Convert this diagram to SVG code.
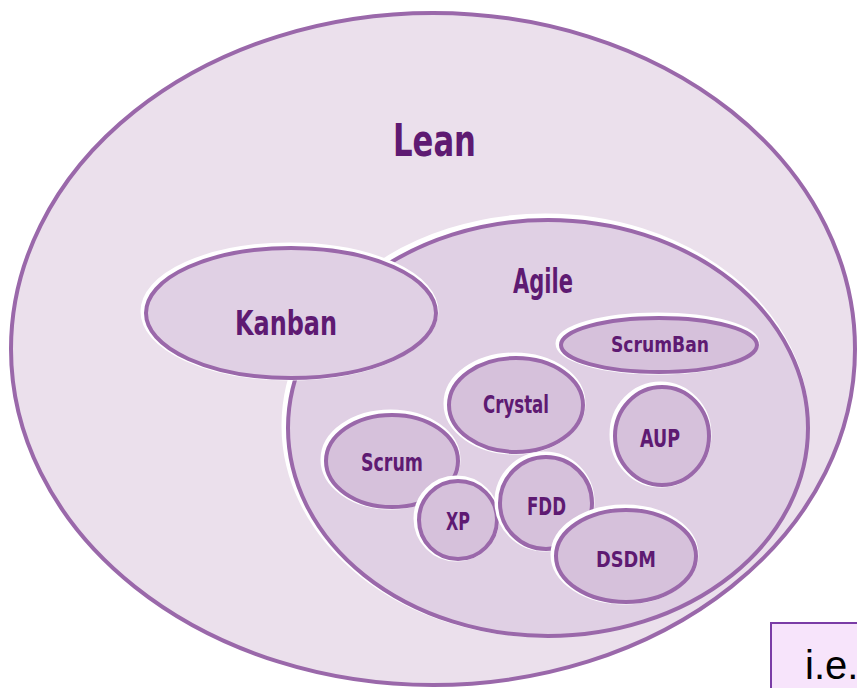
<svg xmlns="http://www.w3.org/2000/svg" width="857" height="688" viewBox="0 0 857 688">
<style>
.halo{fill:none;stroke:#ffffff;stroke-width:6}
.ring{stroke:#9a68aa;stroke-width:4}
.lean{fill:#ebe0ec}
.agile{fill:#e0d0e4}
.inner{fill:#d6c1db}
.lbl{font-family:"Liberation Sans Narrow","DejaVu Sans Condensed","Liberation Sans",sans-serif;font-stretch:condensed;font-weight:bold;fill:#5e1a72;text-anchor:middle}
</style>
<rect width="857" height="688" fill="#ffffff"/>
<g id="lean">
<ellipse class="lean ring" cx="433" cy="349" rx="422" ry="336"/>
<text class="lbl" x="434.5" y="156" font-size="44" textLength="83" lengthAdjust="spacingAndGlyphs">Lean</text>
</g>
<g id="agile">
<ellipse class="halo" cx="547" cy="427" rx="261" ry="209" transform="translate(-1.5,-1.5)"/>
<ellipse class="agile ring" cx="548" cy="428" rx="260" ry="208"/>
<text class="lbl" x="543" y="293" font-size="34" textLength="60" lengthAdjust="spacingAndGlyphs">Agile</text>
</g>
<g id="kanban">
<ellipse class="halo" cx="291" cy="313" rx="146" ry="66" transform="translate(-1.5,-1.5)"/>
<ellipse class="agile ring" cx="291" cy="313" rx="145" ry="65"/>
<text class="lbl" x="286" y="335" font-size="34" textLength="102" lengthAdjust="spacingAndGlyphs">Kanban</text>
</g>
<g id="scrumban">
<ellipse class="halo" cx="659" cy="345" rx="99" ry="28" transform="translate(-1.5,-1.5)"/>
<ellipse class="inner ring" cx="659" cy="345" rx="98" ry="27"/>
<text class="lbl" x="660" y="352" font-size="21" textLength="98" lengthAdjust="spacingAndGlyphs">ScrumBan</text>
</g>
<g id="crystal">
<ellipse class="halo" cx="516" cy="405" rx="68" ry="48" transform="translate(-1.5,-1.5)"/>
<ellipse class="inner ring" cx="516" cy="405" rx="67" ry="47"/>
<text class="lbl" x="516" y="413" font-size="24" textLength="66" lengthAdjust="spacingAndGlyphs">Crystal</text>
</g>
<g id="aup">
<ellipse class="halo" cx="662" cy="436" rx="48" ry="50" transform="translate(-1.5,-1.5)"/>
<ellipse class="inner ring" cx="662" cy="436" rx="47" ry="49"/>
<text class="lbl" x="660" y="447" font-size="24" textLength="40" lengthAdjust="spacingAndGlyphs">AUP</text>
</g>
<g id="scrum">
<ellipse class="halo" cx="392" cy="461" rx="67" ry="47" transform="translate(-1.5,-1.5)"/>
<ellipse class="inner ring" cx="392" cy="461" rx="66" ry="46"/>
<text class="lbl" x="392" y="471" font-size="24" textLength="62" lengthAdjust="spacingAndGlyphs">Scrum</text>
</g>
<g id="xp">
<ellipse class="halo" cx="458" cy="520" rx="40" ry="40" transform="translate(-1.5,-1.5)"/>
<ellipse class="inner ring" cx="458" cy="520" rx="39" ry="39"/>
<text class="lbl" x="458" y="530" font-size="24" textLength="24" lengthAdjust="spacingAndGlyphs">XP</text>
</g>
<g id="fdd">
<ellipse class="halo" cx="546" cy="503" rx="47" ry="47" transform="translate(-1.5,-1.5)"/>
<ellipse class="inner ring" cx="546" cy="503" rx="46" ry="46"/>
<text class="lbl" x="546.5" y="515" font-size="24" textLength="39" lengthAdjust="spacingAndGlyphs">FDD</text>
</g>
<g id="dsdm">
<ellipse class="halo" cx="626" cy="556" rx="71" ry="47" transform="translate(-1.5,-1.5)"/>
<ellipse class="inner ring" cx="626" cy="556" rx="70" ry="46"/>
<text class="lbl" x="626" y="567" font-size="22" textLength="60" lengthAdjust="spacingAndGlyphs">DSDM</text>
</g>
<g id="note">
<rect x="771" y="623" width="100" height="80" fill="#f7e4fb" stroke="#7a3ca6" stroke-width="2"/>
<text x="805" y="679" font-family="'Liberation Sans',Arial,sans-serif" font-size="40" fill="#000000">i.e.</text>
</g>
<g id="connectors"/>
</svg>
